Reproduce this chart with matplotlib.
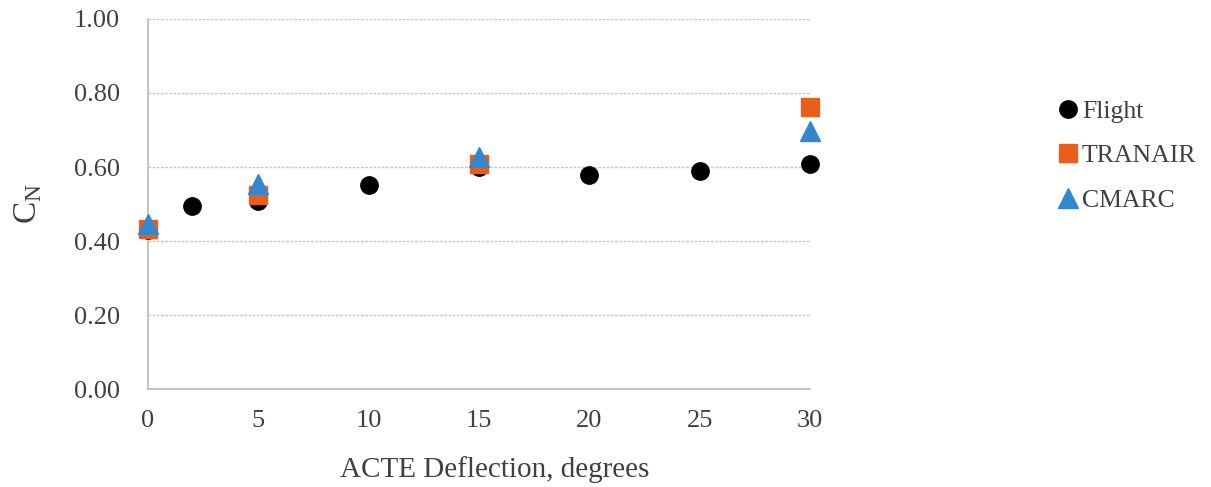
import matplotlib.pyplot as plt

plt.rcParams['font.family'] = ['Liberation Serif', 'DejaVu Serif']

# data
flight_x = [0, 2, 5, 10, 15, 20, 25, 30]
flight_y = [0.43, 0.495, 0.508, 0.551, 0.60, 0.579, 0.589, 0.607]
tranair_x = [0, 5, 15, 30]
tranair_y = [0.432, 0.524, 0.607, 0.761]
cmarc_x = [0, 5, 15, 30]
cmarc_y = [0.446, 0.554, 0.627, 0.697]

x_ticks = [0, 5, 10, 15, 20, 25, 30]
y_ticks = [0.0, 0.2, 0.4, 0.6, 0.8, 1.0]

fig = plt.figure(figsize=(12.11, 4.87), dpi=100)
ax = fig.add_axes([0.1222, 0.2012, 0.5467, 0.7598])

ax.plot(flight_x, flight_y, 'o', color='black', markersize=12.5, label='Flight', zorder=3, clip_on=False)
ax.plot(tranair_x, tranair_y, 's', color='#E95E1B', markersize=13, label='TRANAIR', zorder=4, clip_on=False)
ax.plot(cmarc_x, cmarc_y, '^', color='#3487CF', markersize=14, label='CMARC', zorder=5, clip_on=False)

ax.set_xlim(0, 30)
ax.set_ylim(0, 1.0)
ax.set_xticks(x_ticks)
ax.set_yticks(y_ticks)
ax.set_yticklabels([f'{v:.2f}' for v in y_ticks])
ax.tick_params(length=0, labelsize=19, colors='#404040')
ax.tick_params(axis='y', pad=20)
ax.tick_params(axis='x', pad=15)
ax.grid(axis='y', color='#c8c8c8', linestyle=(0, (2, 1)), linewidth=1)
ax.set_axisbelow(True)
for s in ['top', 'right']:
    ax.spines[s].set_visible(False)
for s in ['left', 'bottom']:
    ax.spines[s].set_color('#bfbfbf')
    ax.spines[s].set_linewidth(1.3)

ax.set_xlabel('ACTE Deflection, degrees', fontsize=21, color='#404040')
ax.xaxis.set_label_coords(0.524, -0.18)
ax.set_ylabel('C$_\\mathregular{N}$', fontsize=24, color='#404040', labelpad=22)

leg = fig.legend(loc='upper left', bbox_to_anchor=(0.852, 0.842), frameon=False,
                 fontsize=18.5, handletextpad=0.05, labelspacing=0.83, handlelength=1.0,
                 markerscale=1.0)
for t in leg.get_texts():
    t.set_color('#404040')

fig.savefig('out.png', dpi=100)
